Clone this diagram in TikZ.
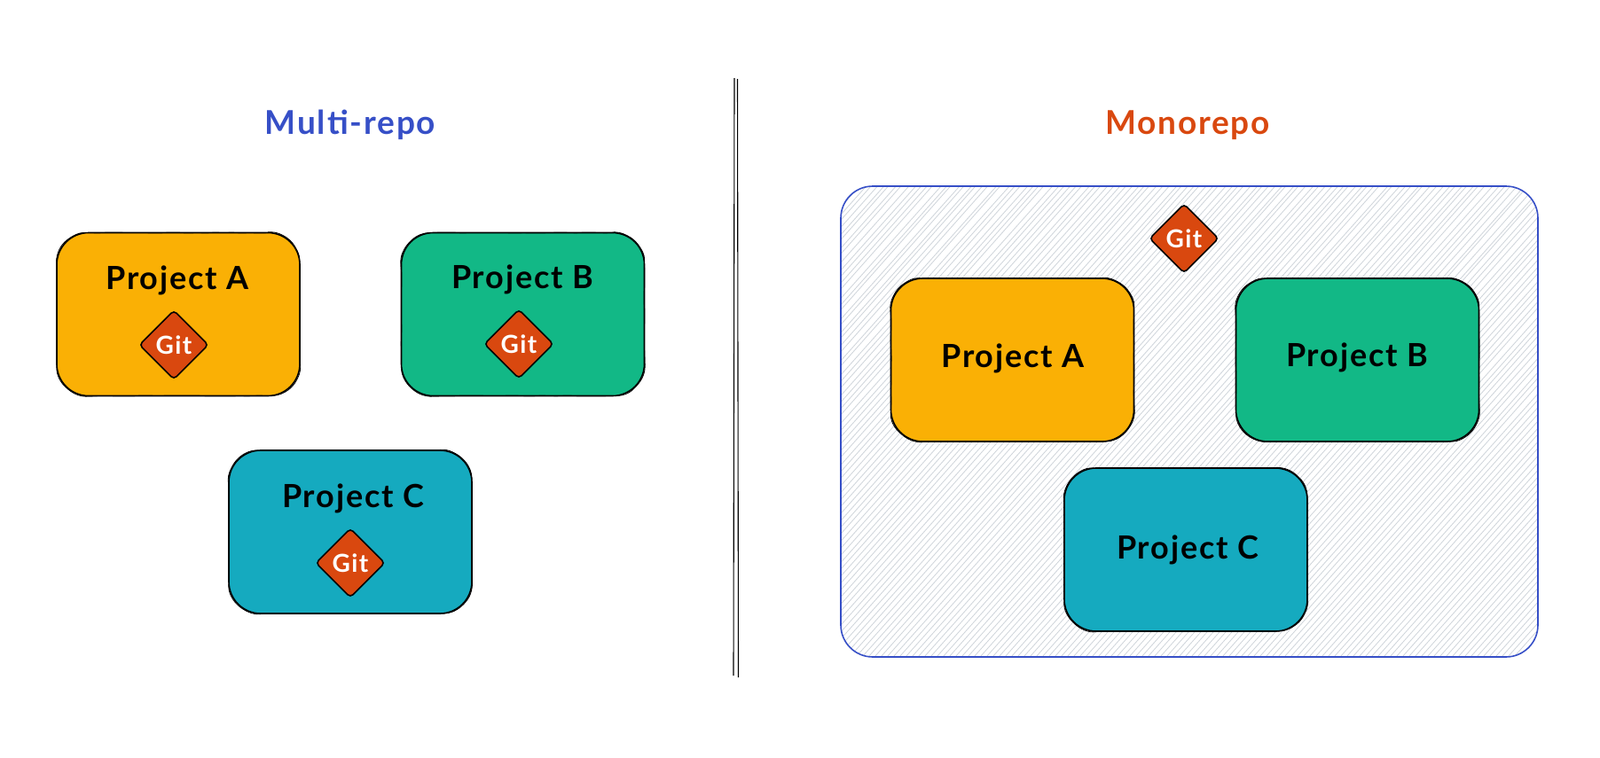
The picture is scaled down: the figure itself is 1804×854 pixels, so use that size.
\documentclass[tikz,border=0pt]{standalone}
\usepackage{fontspec}
\setmainfont[LetterSpace=5]{Lato}
\usetikzlibrary{ shapes.geometric, % For the Git diamonds
                 decorations.pathmorphing, % For the second, rough stroke
               }
\definecolor{amber}{HTML}{FAB005}
\definecolor{jade}{HTML}{12B886}
\definecolor{teal}{HTML}{15AABF}
\definecolor{rust}{HTML}{D9480F}
\definecolor{indigo}{HTML}{364FC7}
\definecolor{hatch}{HTML}{CED4DA}
\tikzstyle{rough} = [decorate, decoration={random steps, segment length=10pt, amplitude=0.4pt}, rounded corners=4pt]
\tikzstyle{project} = [rectangle, minimum width=274pt, minimum height=184pt, rounded corners=36pt, draw=black, line width=1.6pt, postaction={draw=black, line width=0.8pt, rough}]
\tikzstyle{projectlabel} = [font=\bfseries\fontsize{36}{36}\selectfont, text=black]
\tikzstyle{git} = [diamond, minimum width=78pt, minimum height=78pt, inner sep=0pt, rounded corners=4pt, fill=rust, draw=black, line width=1.6pt, text=white, font=\bfseries\fontsize{28}{28}\selectfont]
\tikzstyle{heading} = [font=\bfseries\fontsize{37}{37}\selectfont]
\tikzstyle{hachure} = [hatch, line width=0.8pt]
\tikzstyle{divider} = [black, line width=1.1pt]

\begin{document}
\begin{tikzpicture}[x=1pt, y=-1pt]
  \useasboundingbox (0, 0) rectangle (1804, 854);

  % left side
  \node (titleL) [heading, text=indigo] at (395, 141) {Multi-repo};
  \node (boxA) [project, fill=amber] at (201, 354.5) {};
  \node (boxB) [project, fill=jade] at (589.5, 354.5) {};
  \node (boxC) [project, fill=teal] at (395, 600) {};
  \node (labelA) [projectlabel] at (200, 316) {Project A};
  \node (labelB) [projectlabel] at (589, 315) {Project B};
  \node (labelC) [projectlabel] at (398, 562) {Project C};
  \node (gitA) [git] at (196, 389) {Git};
  \node (gitB) [git] at (585, 388) {Git};
  \node (gitC) [git] at (395, 635) {Git};

  % divider
  \coordinate (top1) at (828, 88);
  \coordinate (bot1) at (827, 762);
  \coordinate (top2) at (831.5, 89);
  \coordinate (bot2) at (832.5, 764);
  \draw [divider] (top1) -- (bot1);
  \draw [divider] (top2) -- (bot2);

  % right side
  \node (titleR) [heading, text=rust] at (1339, 141) {Monorepo};
  \node (frame) [rectangle, minimum width=786pt, minimum height=531pt, rounded corners=36pt, draw=indigo, line width=1.6pt,
    path picture={
      \foreach \i in {-760, -753, ..., 800}
        \draw [hachure] ([xshift=\i pt]path picture bounding box.south west) -- ++({620+5*rnd}, -700);
    }] at (1341, 475.5) {};
  \node (monoA) [project, fill=amber] at (1141.5, 406) {};
  \node (monoB) [project, fill=jade] at (1530.5, 406) {};
  \node (monoC) [project, fill=teal] at (1337, 620) {};
  \node (textA) [projectlabel] at (1142, 404) {Project A};
  \node (textB) [projectlabel] at (1530, 403) {Project B};
  \node (textC) [projectlabel] at (1339, 620) {Project C};
  \node (gitM) [git] at (1335, 269) {Git};
\end{tikzpicture}
\end{document}
